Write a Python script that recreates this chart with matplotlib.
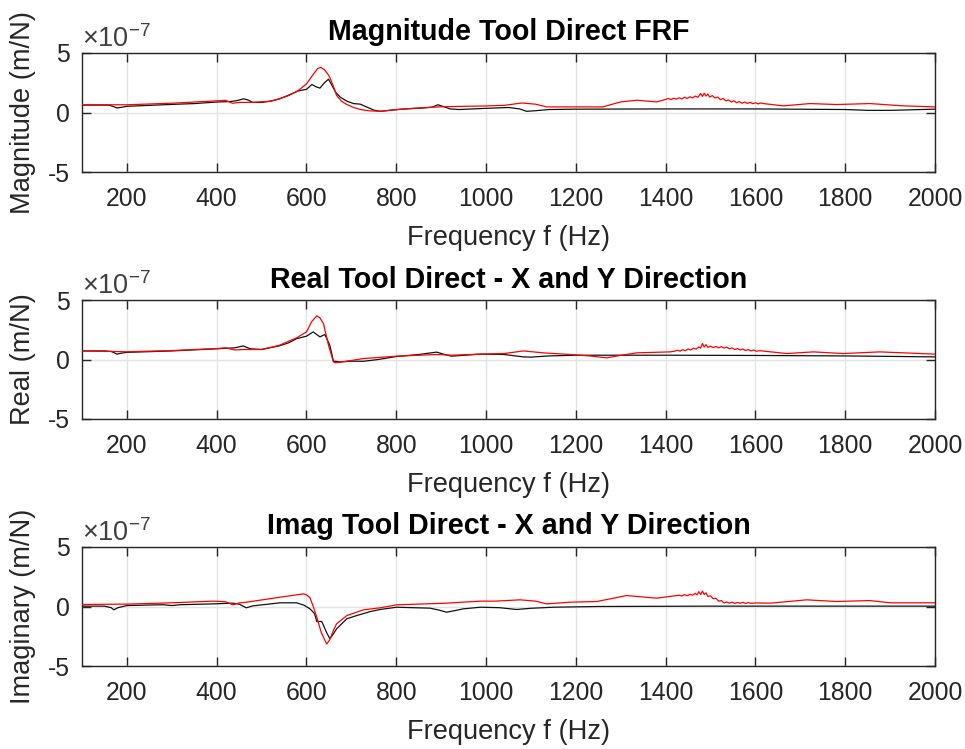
import matplotlib
matplotlib.use("Agg")
import matplotlib.pyplot as plt
import numpy as np
from matplotlib.ticker import FuncFormatter

plt.rcParams['font.family'] = ['Liberation Sans', 'DejaVu Sans']
plt.rcParams['mathtext.fontset'] = 'custom'
plt.rcParams['mathtext.rm'] = 'Liberation Sans'
plt.rcParams['mathtext.it'] = 'Liberation Sans'
plt.rcParams['mathtext.bf'] = 'Liberation Sans:bold'

SCALE = 1e-7

# ---------------- data (values in units of 1e-7 m/N) ----------------
mag_black_f = [100, 140, 160, 170, 178, 190, 200, 250, 300, 350, 400, 430, 445, 460, 470, 480, 500, 520, 540, 560,
               580, 600, 612, 622, 630, 640, 649, 655, 665, 675, 690, 705, 720, 735, 750, 765, 790, 820, 860, 880,
               893, 905, 920, 940, 970, 1000, 1050, 1075, 1090, 1110, 1140, 1200, 1400, 1600, 1800, 1850, 1900, 2000]
mag_black_v = [0.62, 0.62, 0.62, 0.50, 0.38, 0.45, 0.52, 0.60, 0.68, 0.75, 0.88, 0.92, 1.00, 1.15, 1.05, 0.85, 0.85, 0.95, 1.15, 1.45,
               1.80, 1.95, 2.35, 2.15, 2.05, 2.50, 2.80, 2.40, 1.70, 1.30, 0.95, 0.75, 0.70, 0.45, 0.20, 0.10, 0.20, 0.30, 0.38, 0.45,
               0.65, 0.50, 0.30, 0.25, 0.30, 0.35, 0.42, 0.30, 0.10, 0.15, 0.25, 0.28, 0.30, 0.30, 0.25, 0.18, 0.18, 0.28]

mag_red_f = [100, 200, 300, 400, 420, 435, 450, 480, 520, 540, 560, 580, 600, 615, 625, 632, 640, 650, 658, 667,
             678, 690, 705, 720, 740, 765, 800, 850, 900, 950, 1000, 1040, 1080, 1110, 1135, 1200, 1260, 1300, 1336, 1380,
             1400, 1406, 1412, 1418, 1424, 1430, 1436, 1442, 1448, 1454, 1460, 1466, 1472, 1478, 1482, 1486, 1490, 1494,
             1498, 1504, 1510, 1516, 1522, 1528, 1534, 1540, 1546, 1552, 1558, 1564, 1570, 1576, 1582, 1588, 1594, 1600,
             1606, 1612, 1620, 1662, 1722, 1781, 1855, 1929, 2000]
mag_red_v = [0.65, 0.65, 0.78, 0.98, 1.02, 0.78, 0.85, 0.85, 0.95, 1.15, 1.42, 1.80, 2.40, 3.20, 3.70, 3.78, 3.60, 3.10, 2.40, 1.45,
             0.95, 0.67, 0.42, 0.25, 0.14, 0.10, 0.25, 0.38, 0.48, 0.52, 0.55, 0.60, 0.80, 0.70, 0.47, 0.47, 0.47, 0.89, 1.03, 0.89,
             1.10, 1.18, 1.08, 1.20, 1.12, 1.24, 1.14, 1.28, 1.18, 1.32, 1.22, 1.38, 1.28, 1.60, 1.35, 1.62, 1.38, 1.55,
             1.30, 1.42, 1.22, 1.30, 1.08, 1.18, 0.98, 1.06, 0.88, 0.98, 0.82, 0.92, 0.78, 0.88, 0.76, 0.86, 0.74, 0.82,
             0.72, 0.80, 0.74, 0.56, 0.75, 0.67, 0.75, 0.56, 0.47]

re_black_f = [100, 150, 165, 178, 190, 200, 300, 400, 440, 459, 475, 500, 540, 560, 578, 600, 615, 630, 641, 652,
              660, 675, 700, 727, 760, 800, 850, 890, 905, 923, 987, 1040, 1083, 1100, 1140, 1200, 1400, 1600, 1800, 2000]
re_black_v = [0.72, 0.72, 0.68, 0.45, 0.55, 0.60, 0.72, 0.90, 0.98, 1.14, 0.90, 0.84, 1.15, 1.40, 1.75, 1.96, 2.32, 1.90, 2.10, 1.20,
              -0.14, -0.20, -0.14, -0.15, 0.00, 0.25, 0.42, 0.62, 0.45, 0.28, 0.45, 0.42, 0.22, 0.20, 0.30, 0.36, 0.36, 0.34, 0.30, 0.22]

re_red_f = [100, 200, 300, 400, 420, 440, 460, 500, 540, 578, 600, 612, 623, 630, 638, 649, 660, 664, 690, 727,
            801, 890, 923, 987, 1040, 1083, 1130, 1187, 1230, 1269, 1300, 1336, 1410,
            1420, 1426, 1432, 1438, 1444, 1450, 1456, 1462, 1468, 1474, 1478, 1482, 1486, 1490, 1494, 1500, 1506, 1512,
            1518, 1524, 1530, 1536, 1542, 1548, 1554, 1560, 1566, 1572, 1578, 1584, 1590, 1596, 1602, 1610,
            1670, 1729, 1796, 1877, 2000]
re_red_v = [0.72, 0.65, 0.75, 0.92, 0.98, 0.80, 0.84, 0.84, 1.20, 1.82, 2.32, 3.20, 3.67, 3.50, 3.00, 1.20, -0.20, -0.28, -0.14, 0.08,
            0.28, 0.42, 0.36, 0.45, 0.50, 0.72, 0.55, 0.42, 0.30, 0.14, 0.35, 0.56, 0.64,
            0.70, 0.78, 0.70, 0.82, 0.74, 0.88, 0.80, 0.95, 0.88, 1.05, 0.95, 1.35, 1.05, 1.25, 1.02, 1.12, 1.00, 1.10,
            0.98, 1.08, 0.96, 1.04, 0.90, 0.98, 0.84, 0.92, 0.80, 0.88, 0.76, 0.84, 0.72, 0.80, 0.70, 0.74,
            0.50, 0.64, 0.50, 0.64, 0.45]

im_black_f = [100, 150, 165, 171, 180, 200, 280, 300, 320, 392, 436, 450, 466, 480, 541, 578, 595, 608, 618, 623,
              634, 645, 652, 660, 667, 690, 712, 740, 764, 801, 875, 895, 912, 930, 949, 987, 1030, 1068, 1100, 1150,
              1250, 1500, 2000]
im_black_v = [0.03, 0.03, -0.10, -0.28, -0.10, 0.08, 0.15, 0.08, 0.15, 0.22, 0.28, 0.20, -0.11, 0.05, 0.31, 0.31, 0.10, -0.20, -0.60, -1.26,
              -1.26, -2.20, -2.70, -2.30, -1.88, -1.03, -0.76, -0.45, -0.25, -0.06, -0.14, -0.30, -0.48, -0.35, -0.20, -0.06, -0.10, -0.25, -0.15, -0.06,
              0.00, 0.03, 0.03]

im_red_f = [100, 200, 300, 392, 420, 436, 450, 466, 541, 578, 593, 600, 608, 615, 623, 633, 645, 652, 660, 667,
            690, 727, 764, 801, 912, 987, 1020, 1076, 1110, 1135, 1187, 1247, 1313, 1380, 1425,
            1430, 1436, 1442, 1448, 1454, 1460, 1466, 1470, 1474, 1478, 1482, 1486, 1490, 1494, 1500, 1506, 1512,
            1518, 1524, 1530, 1536, 1542, 1548, 1554, 1560, 1566, 1572, 1578, 1584, 1590, 1600,
            1633, 1714, 1781, 1855, 1900, 2000]
im_red_v = [0.17, 0.20, 0.31, 0.45, 0.40, 0.14, 0.30, 0.36, 0.78, 0.98, 1.06, 0.98, 0.73, 0.00, -0.90, -2.20, -3.15, -2.80, -2.00, -1.46,
            -0.76, -0.28, -0.11, 0.14, 0.28, 0.45, 0.45, 0.56, 0.45, 0.22, 0.36, 0.42, 0.92, 0.70, 0.92,
            0.95, 0.88, 1.00, 0.90, 1.02, 0.95, 1.10, 0.98, 1.25, 1.00, 1.30, 1.00, 1.15, 0.85, 0.90, 0.65, 0.70,
            0.45, 0.50, 0.30, 0.38, 0.28, 0.36, 0.26, 0.34, 0.27, 0.35, 0.26, 0.33, 0.27, 0.30,
            0.28, 0.56, 0.42, 0.50, 0.31, 0.31]

titles = ["Magnitude Tool Direct FRF",
          "Real Tool Direct - X and Y Direction",
          "Imag Tool Direct - X and Y Direction"]
ylabels = ["Magnitude (m/N)", "Real (m/N)", "Imaginary (m/N)"]
xlabel = "Frequency f (Hz)"
xticks = [200, 400, 600, 800, 1000, 1200, 1400, 1600, 1800, 2000]
yticks = [-5, 0, 5]

panels = [
    (mag_black_f, mag_black_v, mag_red_f, mag_red_v),
    (re_black_f, re_black_v, re_red_f, re_red_v),
    (im_black_f, im_black_v, im_red_f, im_red_v),
]

# ---------------- figure ----------------
W, H = 965, 749
fig = plt.figure(figsize=(W / 100, H / 100), dpi=100)
TXT = '#262626'
left_px, right_px = 82, 935
boxes = [(53, 172), (300, 419), (547, 666)]

for i, (bf, bv, rf, rv) in enumerate(panels):
    top, bot = boxes[i]
    ax = fig.add_axes([left_px / W, 1 - bot / H, (right_px - left_px) / W, (bot - top) / H])
    ax.plot(bf, np.array(bv) * SCALE, color='#111111', lw=0.9, zorder=3)
    ax.plot(rf, np.array(rv) * SCALE, color='#ff0000', lw=0.9, zorder=4)
    ax.set_xlim(100, 2000)
    ax.set_ylim(-5 * SCALE, 5 * SCALE)
    ax.set_xticks(xticks)
    ax.set_yticks([t * SCALE for t in yticks])
    ax.yaxis.set_major_formatter(FuncFormatter(lambda v, p: "%d" % round(v / SCALE)))
    ax.grid(True, color='#e3e3e3', lw=1.0, zorder=0)
    ax.set_axisbelow(True)
    ax.tick_params(direction='in', length=6.5, width=1.0, color=TXT, labelsize=17.8,
                   labelcolor=TXT, top=True, right=True)
    ax.tick_params(axis='x', pad=11)
    ax.tick_params(axis='y', pad=9)
    for s in ax.spines.values():
        s.set_color(TXT)
        s.set_linewidth(1.0)
    ax.set_title(titles[i], fontsize=20.6, fontweight='bold', color='black', pad=9)
    ax.set_ylabel(ylabels[i], fontsize=19.6, color=TXT, labelpad=8)
    ax.set_xlabel(xlabel, fontsize=19.6, color=TXT, labelpad=10)
    ax.text(0.0, 1.0, r'$\times10^{-7}$', transform=ax.transAxes, ha='left', va='bottom',
            fontsize=19.5, color='#404040')

fig.savefig("out.png", dpi=100)
